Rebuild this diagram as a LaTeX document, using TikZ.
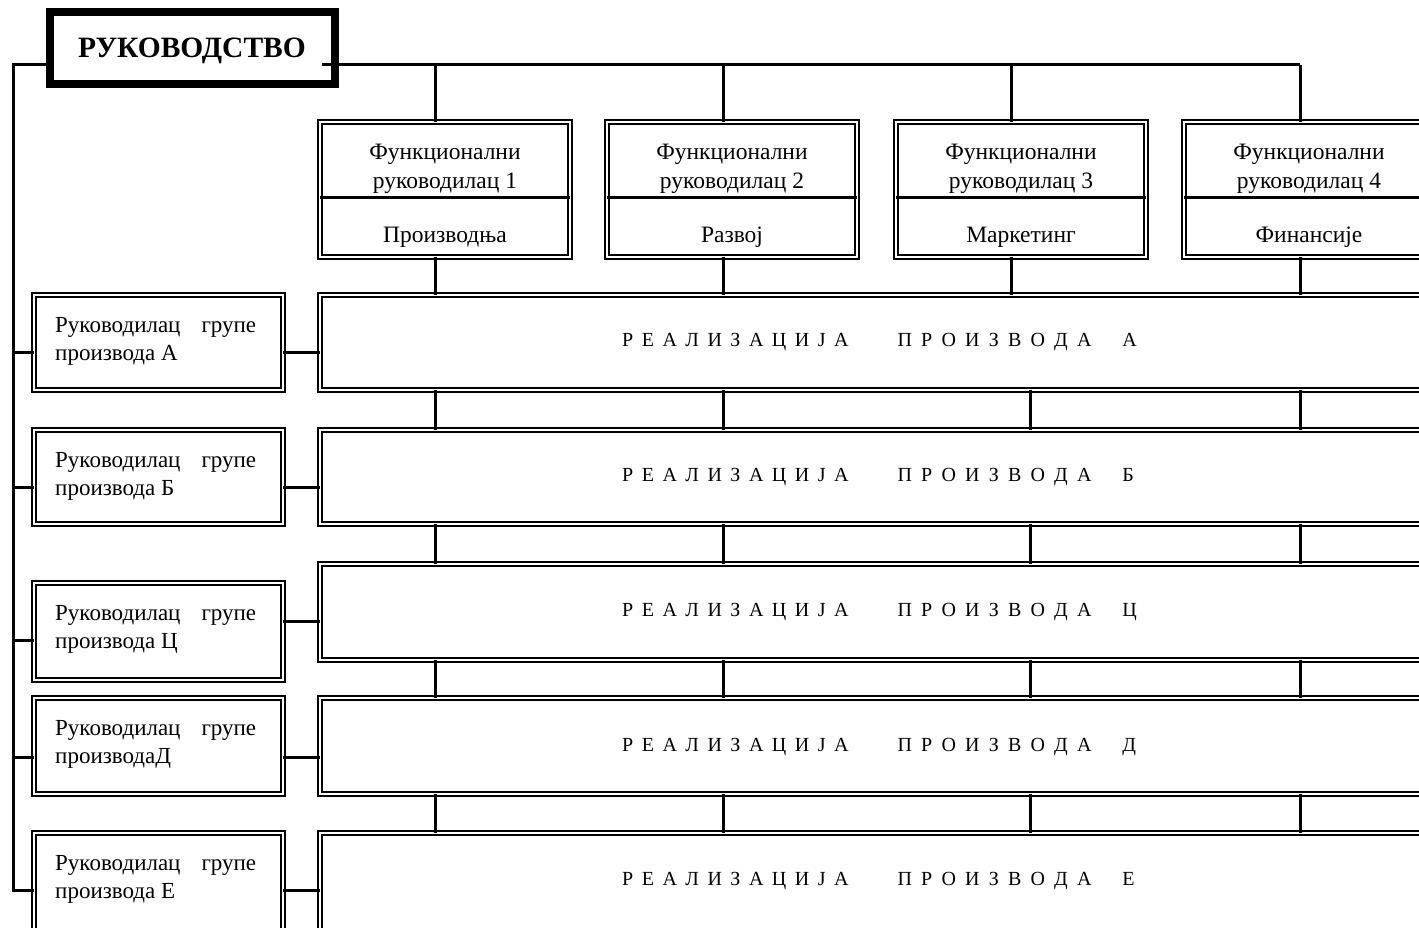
\documentclass[tikz,border=0pt]{standalone}
\usepackage{fontspec}
\setmainfont{Liberation Serif}
\usetikzlibrary{calc}
% spacing used inside the spread-out row titles
\newcommand\lgap{\hspace{8.5pt}}
\newcommand\lgapb{\hspace{9.2pt}}
\newcommand\realiz[1]{Р\lgap Е\lgap А\lgap Л\lgap И\lgap З\lgap А\lgap Ц\lgap И\lgap Ј\lgap А\hspace{49pt}П\lgapb Р\lgapb О\lgapb И\lgapb З\lgapb В\lgapb О\lgapb Д\lgapb А\hspace{31pt}#1}
\begin{document}
\begin{tikzpicture}[x=1pt,y=-1pt,
  dbox/.style={draw, line width=2.4pt, double=white, double distance=2pt,
    inner sep=0pt, outer sep=0pt},
  fbox/.style={dbox, minimum width=250pt, minimum height=135pt},
  gbox/.style={dbox, minimum width=249pt},
  rbox/.style={dbox, minimum width=1122pt},
  link/.style={line width=3pt},
  ftext/.style={font=\fontsize{23.5}{29}\selectfont, align=center, inner sep=0pt},
  ltext/.style={font=\fontsize{23}{28}\selectfont, align=left, inner sep=0pt, anchor=west},
  rtext/.style={font=\fontsize{20}{24}\selectfont, inner sep=0pt, anchor=west}]
\useasboundingbox (0,0) rectangle (1419,928);
\clip (0,0) rectangle (1419,928);

% management box: thick frame with a thin inner frame
\node[draw, line width=7.5pt, minimum width=286pt, minimum height=73pt, inner sep=0pt]
  (top) at (192.5,48) {};
\draw[line width=2.4pt] ($(top.north west)+(7.5,7.5)$) rectangle ($(top.south east)+(-7.5,-7.5)$);
\node[font=\bfseries\fontsize{29.5}{30}\selectfont, inner sep=0pt] (toptext) at (192,51) {РУКОВОДСТВО};

% functional managers
\node[fbox] (f1) at (445,189.5) {};
\node[fbox] (f2) at (732,189.5) {};
\node[fbox] (f3) at (1021,189.5) {};
\node[fbox] (f4) at (1309,189.5) {};
\coordinate (dv) at (0,198);
\foreach \f/\n/\d in {f1/1/Производња, f2/2/Развој, f3/3/Маркетинг, f4/4/Финансије}{
  \draw[link] (\f.west |- dv) -- (\f.east |- dv);
  \node[ftext] (\f t) at ($(\f.center |- dv)+(0,-29.5)$) {Функционални\\руководилац \n};
  \node[ftext] (\f d) at ($(\f.center |- dv)+(0,39)$) {\d};
}

% product group managers and product rows
\node[gbox, minimum height=95pt] (lA) at (158.5,342.5) {};
\node[gbox, minimum height=94pt] (lB) at (158.5,477) {};
\node[gbox, minimum height=97pt] (lC) at (158.5,631.5) {};
\node[gbox, minimum height=96pt] (lD) at (158.5,746) {};
\node[gbox, minimum height=104pt] (lE) at (158.5,885) {};
\node[rbox, minimum height=95pt] (rA) at (881,342.5) {};
\node[rbox, minimum height=94pt] (rB) at (881,477) {};
\node[rbox, minimum height=96pt] (rC) at (881,612) {};
\node[rbox, minimum height=96pt] (rD) at (881,746) {};
\node[rbox, minimum height=104pt] (rE) at (881,885) {};

\node[ltext] (lAt) at (55,341.5) {Руководилац\hspace{21pt}групе\\производа А};
\node[ltext] (lBt) at (55,476.5) {Руководилац\hspace{21pt}групе\\производа Б};
\node[ltext] (lCt) at (55,629.5) {Руководилац\hspace{21pt}групе\\производа Ц};
\node[ltext] (lDt) at (55,744.5) {Руководилац\hspace{21pt}групе\\производаД};
\node[ltext] (lEt) at (55,879.5) {Руководилац\hspace{21pt}групе\\производа Е};

\node[rtext] (rAt) at (622,342) {\realiz{А}};
\node[rtext] (rBt) at (622,477) {\realiz{Б}};
\node[rtext] (rCt) at (622,612) {\realiz{Ц}};
\node[rtext] (rDt) at (622,747) {\realiz{Д}};
\node[rtext] (rEt) at (622,881) {\realiz{Е}};

% top distribution line
\coordinate (tL) at (46,65);
\coordinate (tR) at (322,65);
\coordinate (spine) at (13,65);
\coordinate (c1) at (435,65);
\coordinate (c2) at (723,65);
\coordinate (c3) at (1011,65);
\coordinate (c4) at (1300,65);
\draw[link] (tR) -- (c4);
\foreach \c/\f in {c1/f1, c2/f2, c3/f3, c4/f4}{
  \draw[link] (\c) -- (\c |- \f.north);
  \draw[link] (\c |- \f.south) -- (\c |- rA.north);
}

% spine down the left side
\coordinate (sA) at (13,352);
\coordinate (sB) at (13,487);
\coordinate (sC) at (13,640);
\coordinate (sD) at (13,757);
\coordinate (sE) at (13,890);
\draw[link] (tL) -- (spine) -- (sE) -- (sE -| lE.west);
\foreach \s/\l in {sA/lA, sB/lB, sC/lC, sD/lD}{
  \draw[link] (\s) -- (\s -| \l.west);
}
% group manager to product row
\foreach \s/\l/\r in {sA/lA/rA, sB/lB/rB, sD/lD/rD, sE/lE/rE}{
  \draw[link] (\s -| \l.east) -- (\s -| \r.west);
}
\coordinate (hC) at (0,621);
\draw[link] (hC -| lC.east) -- (hC -| rC.west);

% links between product rows
\coordinate (v1) at (435,0);
\coordinate (v2) at (723,0);
\coordinate (v3) at (1030,0);
\coordinate (v4) at (1300,0);
\foreach \u/\w in {rA/rB, rB/rC, rC/rD, rD/rE}{
  \foreach \v in {v1,v2,v3,v4}{
    \draw[link] (\v |- \u.south) -- (\v |- \w.north);
  }
}
\end{tikzpicture}
\end{document}
